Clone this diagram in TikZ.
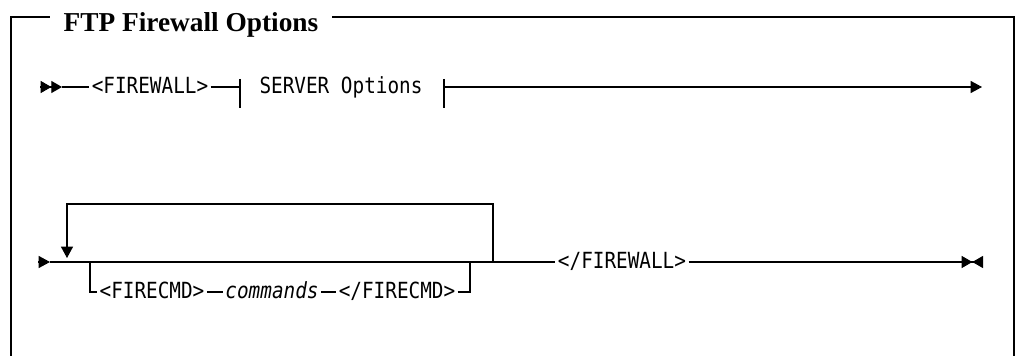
\documentclass[tikz,border=0pt]{standalone}
\usepackage{fontspec}
\setmainfont{Liberation Serif}
\setmonofont{DejaVu Sans Mono}
\usetikzlibrary{arrows.meta}
\newcommand\syntxt[1]{\scalebox{1}[1.15]{#1}}

\begin{document}
\begin{tikzpicture}[x=0.75pt, y=-0.75pt, line width=0.8pt,
    syn/.style={font=\ttfamily\fontsize{14.5}{17}\selectfont, inner xsep=1.5pt, inner ysep=0pt, text height=12.2pt, text depth=2.2pt},
    tip/.style={-{Triangle[length=8.5pt,width=9pt]}},
    ]
    \useasboundingbox (0,0) rectangle (1016,356);
    \node[font=\bfseries\fontsize{20.5}{25}\selectfont, inner xsep=10pt, anchor=base] (title) at (191,32) {FTP Firewall Options};
    \coordinate (tl) at (11,17);
    \coordinate (tr) at (1014,17);
    \draw (title.west |- tl) -- (tl) -- (11,356);
    \draw (title.east |- tr) -- (tr) -- (1014,356);

    \coordinate (s1) at (40,87);
    \coordinate (s1b) at (62,87);
    \node[syn] (fw) at (150,87) {\syntxt{<FIREWALL>}};
    \coordinate (b1) at (240,87);
    \node[syn] (srv) at (341,87) {\syntxt{SERVER Options}};
    \coordinate (b2) at (444,87);
    \coordinate (e1) at (982,87);

    \draw[-{Triangle[length=8pt,width=9pt]Triangle[length=8pt,width=9pt]}] (s1) -- (s1b);
    \draw (s1b) -- (fw) -- (b1);
    \draw (b1) ++(0,-8) -- ++(0,29);
    \draw (b2) ++(0,-8) -- ++(0,29);
    \draw[tip] (b2) -- (e1);

    \coordinate (s2) at (38,262);
    \coordinate (s2b) at (50,262);
    \coordinate (ll) at (67,262);
    \coordinate (bl) at (90,262);
    \node[syn] (fc) at (152,292) {\syntxt{<FIRECMD>}};
    \node[syn, font=\ttfamily\itshape\fontsize{14.5}{17}\selectfont] (cmd) at (272,292) {\syntxt{commands}};
    \node[syn] (fce) at (397,292) {\syntxt{</FIRECMD>}};
    \coordinate (br) at (470,262);
    \coordinate (lr) at (493,262);
    \node[syn] (fwe) at (622,262) {\syntxt{</FIREWALL>}};
    \coordinate (e2) at (983,262);

    \draw[tip] (s2) -- (s2b);
    \draw (s2b) -- (fwe);
    \draw[tip] (lr) -- ++(0,-58) -| ([yshift=3pt]ll);
    \draw (bl) |- (fc) -- (cmd) -- (fce) -| (br);
    \draw[-{Triangle[length=8pt,width=9pt]Triangle[length=8pt,width=9pt,reversed]}] (fwe) -- (e2);
\end{tikzpicture}
\end{document}
